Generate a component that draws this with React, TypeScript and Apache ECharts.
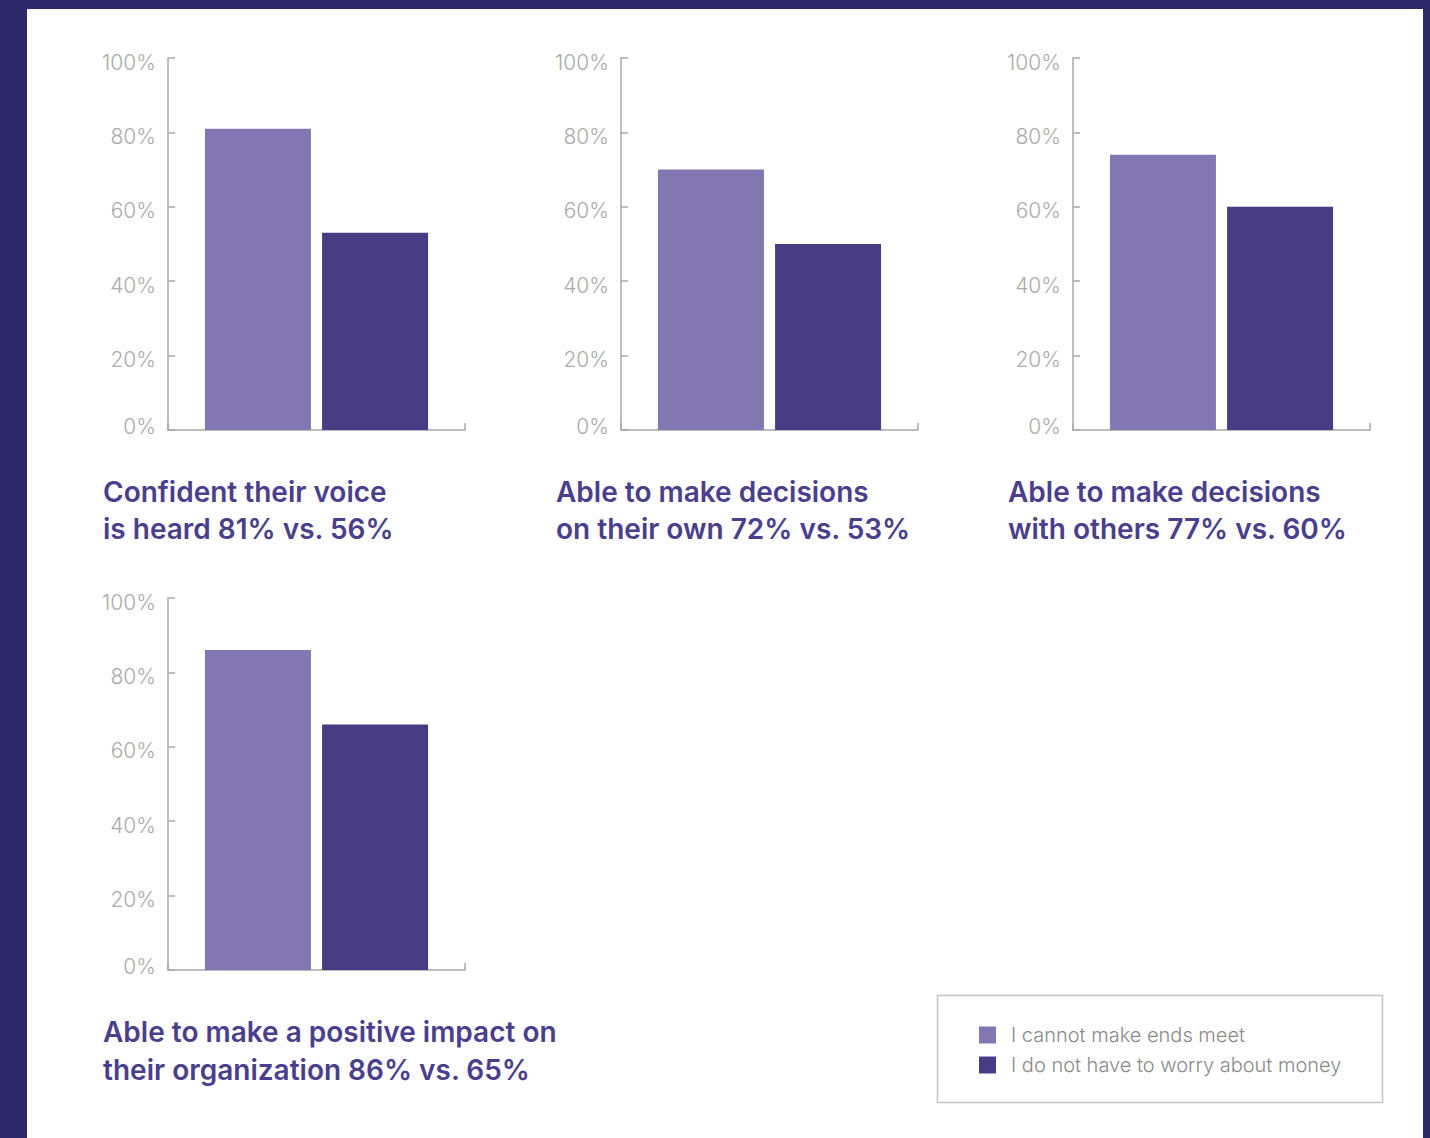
import React, { useEffect, useRef } from "react";
import * as echarts from "echarts";

// ---- data ----
const seriesNames = ["I cannot make ends meet", "I do not have to worry about money"];
const cannotMakeEndsMeet = [81, 70, 74, 86];
const noMoneyWorry = [53, 50, 60, 66];
const chartTitles = [
  ["Confident their voice", "is heard 81% vs. 56%"],
  ["Able to make decisions", "on their own 72% vs. 53%"],
  ["Able to make decisions", "with others 77% vs. 60%"],
  ["Able to make a positive impact on", "their organization 86% vs. 65%"],
];
const yMin = 0;
const yMax = 100;
const yStep = 20;

// ---- styles ----
const NAVY = "#2d2a6a";
const LIGHT = "#8377b3";
const DARK = "#483c85";
const TITLE = "#4a3e8d";
const AXIS = "#a8a8a8";
const TICK_TEXT = "#ababab";
const FONT = "Inter, 'Noto Sans', sans-serif";

const grids = [
  { left: 168, top: 58, width: 297, height: 372 },
  { left: 621, top: 58, width: 297, height: 372 },
  { left: 1073, top: 58, width: 297, height: 372 },
  { left: 168, top: 598, width: 297, height: 372 },
];
const titlePos = [
  { x: 103, y1: 492, y2: 529 },
  { x: 556, y1: 492, y2: 529 },
  { x: 1008, y1: 492, y2: 529 },
  { x: 103, y1: 1032, y2: 1070 },
];

const tickTextStyle = {
  color: TICK_TEXT,
  fontFamily: FONT,
  fontWeight: 300,
  fontSize: 21,
};

export default function App() {
  const ref = useRef<HTMLDivElement>(null);
  useEffect(() => {
    if (!ref.current) return;
    const chart = echarts.init(ref.current, null, { renderer: "svg" });
    const xAxis = grids.map((_, i) => ({
      type: "category",
      gridIndex: i,
      data: [chartTitles[i].join(" ")],
      boundaryGap: true,
      axisLine: { show: true, lineStyle: { color: AXIS, width: 1.5 } },
      axisTick: { show: true, inside: true, length: 7, lineStyle: { color: AXIS, width: 1.5 } },
      axisLabel: { show: false },
      splitLine: { show: false },
    }));
    const yAxis = grids.map((_, i) => ({
      type: "value",
      gridIndex: i,
      min: yMin,
      max: yMax,
      interval: yStep,
      axisLine: { show: true, lineStyle: { color: AXIS, width: 1.5 } },
      axisTick: { show: true, inside: true, length: 7, lineStyle: { color: AXIS, width: 1.5 } },
      splitLine: { show: false },
      axisLabel: {
        formatter: (v: number) => (v === yMin ? `{z|${v}%}` : `{t|${v}%}`),
        margin: 12,
        verticalAlign: "middle",
        rich: {
          t: { ...tickTextStyle, padding: [8, 0, 0, 0] },
          z: { ...tickTextStyle, padding: [0, 0, 8, 0] },
        },
      },
    }));
    const series: any[] = [];
    grids.forEach((_, i) => {
      series.push({
        type: "bar",
        name: seriesNames[0],
        xAxisIndex: i,
        yAxisIndex: i,
        data: [cannotMakeEndsMeet[i]],
        barWidth: 106,
        barGap: "10.5%",
        itemStyle: { color: LIGHT },
      });
      series.push({
        type: "bar",
        name: seriesNames[1],
        xAxisIndex: i,
        yAxisIndex: i,
        data: [noMoneyWorry[i]],
        barWidth: 106,
        barGap: "10.5%",
        itemStyle: { color: DARK },
      });
    });
    const graphics: any[] = [
      { type: "rect", shape: { x: 0, y: 0, width: 27, height: 1138 }, style: { fill: NAVY }, silent: true },
      { type: "rect", shape: { x: 0, y: 0, width: 1430, height: 9 }, style: { fill: NAVY }, silent: true },
      { type: "rect", shape: { x: 1423, y: 0, width: 7, height: 1138 }, style: { fill: NAVY }, silent: true },
      {
        type: "rect",
        shape: { x: 937.5, y: 995.5, width: 445, height: 107 },
        style: { fill: "none", stroke: "#c4c4c4", lineWidth: 1.5 },
        silent: true,
      },
    ];
    titlePos.forEach((p, i) => {
      [p.y1, p.y2].forEach((y, j) => {
        graphics.push({
          type: "text",
          x: p.x,
          y,
          style: {
            text: chartTitles[i][j],
            fill: TITLE,
            font: `600 28px ${FONT}`,
            textAlign: "left",
            textVerticalAlign: "middle",
          },
        });
      });
    });
    chart.setOption({
      animation: false,
      backgroundColor: "#ffffff",
      grid: grids.map((g) => ({ ...g, containLabel: false })),
      xAxis,
      yAxis,
      series,
      legend: {
        data: seriesNames,
        orient: "vertical",
        left: 979,
        top: 1025,
        padding: 0,
        icon: "rect",
        itemWidth: 17,
        itemHeight: 17,
        itemGap: 10,
        selectedMode: false,
        textStyle: {
          color: "#8a8a8a",
          fontFamily: FONT,
          fontWeight: 300,
          fontSize: 20,
          padding: [0, 0, 0, 10],
        },
      },
      graphic: graphics,
    });
    return () => chart.dispose();
  }, []);
  return (
    <div
      ref={ref}
      style={{ position: "absolute", left: 0, top: 0, width: 1430, height: 1138 }}
    />
  );
}
